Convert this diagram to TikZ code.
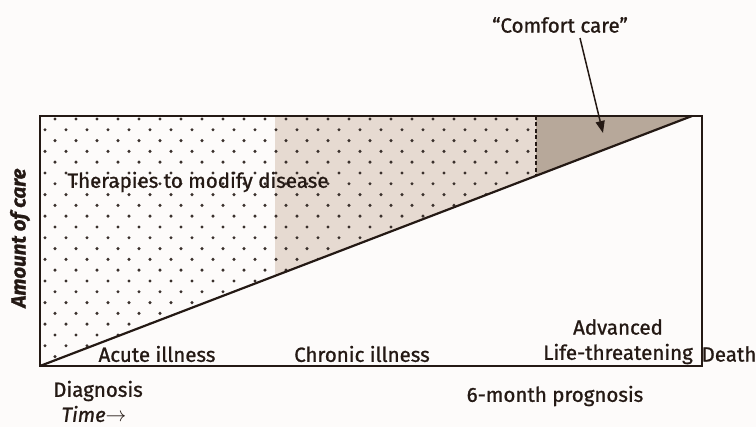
\documentclass[tikz,border=0pt]{standalone}
\usepackage{fontspec}
\setmainfont{Fira Sans}[FakeBold=1]
\usetikzlibrary{arrows.meta}
\definecolor{inkbrown}{HTML}{241914}
\definecolor{chronicfill}{HTML}{E6DAD1}
\definecolor{comfortfill}{HTML}{B7A89A}
\definecolor{paper}{HTML}{FDFBFA}

\begin{document}
\begin{tikzpicture}[x=1pt, y=-1pt,
  lbl/.style={font=\fontsize{20.5}{23}\selectfont, text=inkbrown, inner sep=1pt},
  dotmark/.style={fill=inkbrown!90},
  frame/.style={draw=inkbrown, line width=1.8pt},
  >={Triangle[length=12pt, width=9pt]},
]

% Page and frame
\useasboundingbox[fill=paper] (0,0) rectangle (756,427);
\coordinate (bl) at (40,366);
\coordinate (tl) at (40,116);
\coordinate (br) at (702,366);
\coordinate (apex) at (692,116);
\coordinate (splittop) at (275,116);
\coordinate (splitbase) at (275,276);
\coordinate (sixtop) at (536,116);
\coordinate (sixbase) at (536,176);

% Shaded phases
\fill[chronicfill] (splittop) -- (sixtop) -- (sixbase) -- (splitbase) -- cycle;
\fill[comfortfill] (sixtop) -- (apex) -- (sixbase) -- cycle;

% Dot screen above the care line
\begin{scope}
  \clip (tl) -- (sixtop) -- (sixbase) -- (bl) -- cycle;
  \foreach \row in {0,...,23} {
    \pgfmathsetmacro{\dy}{119+10.8*\row}
    \pgfmathsetmacro{\dx}{mod(\row,2)==0 ? 55 : 45}
    \foreach \col in {0,...,24}
      \fill[dotmark] (\dx+21*\col, \dy) circle (1.7);
  }
\end{scope}

% Frame, care line and six-month mark
\draw[frame] (tl) rectangle (br);
\draw[frame, line width=2.2pt] (bl) -- (apex);
\draw[inkbrown, line width=2.6pt, dash pattern=on 4pt off 2.5pt] (sixtop) -- (sixbase);

% Labels inside the frame
\node[lbl] (therapies) at (198,182) {Therapies to modify disease};
\node[lbl] (acute) at (157,354) {Acute illness};
\node[lbl] (chronic) at (362,354) {Chronic illness};
\node[lbl] (advanced) at (618,327) {Advanced};
\node[lbl] (lifethr) at (618,354) {Life-threatening};

% Labels outside the frame
\node[lbl] (death) at (729,354) {Death};
\node[lbl] (diagnosis) at (98,391) {Diagnosis};
\node[lbl, font=\fontsize{20.5}{23}\selectfont\itshape] (time) at (94,414) {Time$\rightarrow$};
\node[lbl] (prognosis) at (555,396) {6-month prognosis};
\node[lbl, font=\fontsize{20.5}{23}\selectfont\bfseries\itshape, rotate=90] (amount) at (20,238) {Amount of care};

% Comfort care pointer
\node[lbl] (comfort) at (560,25) {“Comfort care”};
\coordinate (comforttip) at (603,133);
\draw[->, inkbrown, line width=1.5pt] ([xshift=20pt, yshift=-4pt]comfort.south) -- (comforttip);

\end{tikzpicture}
\end{document}
